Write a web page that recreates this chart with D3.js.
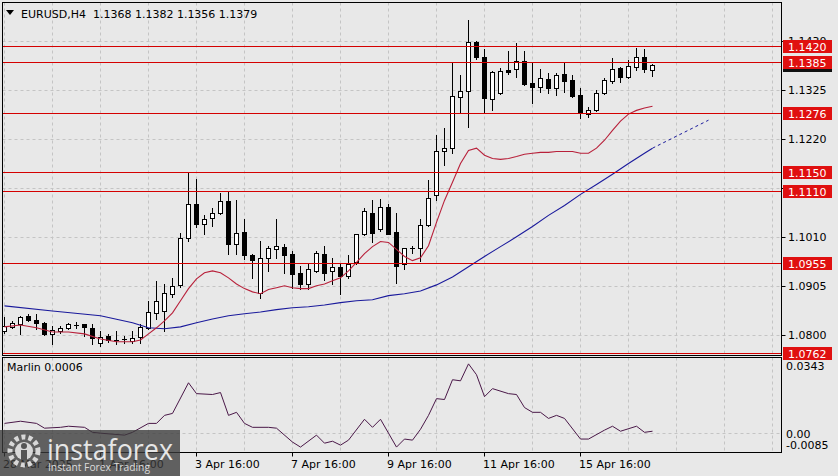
<!DOCTYPE html>
<html><head><meta charset="utf-8">
<script src="https://cdn.jsdelivr.net/npm/d3@7"></script>
<style>
html,body{margin:0;padding:0;background:#e8e8e8;}
svg{display:block;font-family:"DejaVu Sans",sans-serif;}
</style></head><body>
<svg id="c" width="838" height="476"></svg>
<script>
const symbol = "EURUSD,H4";
const headerOHLC = ["1.1368", "1.1382", "1.1356", "1.1379"];

const opens = [1.0809,1.0818,1.0824,1.0842,1.0833,1.0827,1.0803,1.0809,1.0816,1.0822,
 1.0824,1.0816,1.0784,1.0799,1.0788,1.0790,1.0788,1.0797,1.0816,1.0848,
 1.0852,1.0889,1.0908,1.1009,1.1082,1.1039,1.1052,1.1061,1.1087,1.0996,
 1.1022,1.0973,1.0891,1.0966,1.0984,1.0990,1.0975,1.0934,1.0910,1.0938,
 1.0975,1.0938,1.0947,1.0928,1.0956,1.1016,1.1061,1.1027,1.1074,1.1022,
 1.0953,1.0984,1.0986,1.1037,1.1100,1.1196,1.1201,1.1310,1.1323,1.1429,
 1.1396,1.1306,1.1319,1.1368,1.1371,1.1388,1.1340,1.1332,1.1349,1.1330,
 1.1360,1.1347,1.1315,1.1274,1.1282,1.1319,1.1345,1.1373,1.1353,1.1375,
 1.1396,1.1368];
const highs = [1.0840,1.0831,1.0842,1.0846,1.0846,1.0829,1.0820,1.0820,1.0827,1.0829,
 1.0825,1.0824,1.0809,1.0803,1.0809,1.0799,1.0809,1.0824,1.0874,1.0917,
 1.0910,1.0923,1.1020,1.1149,1.1136,1.1057,1.1072,1.1104,1.1110,1.1089,
 1.1050,1.0975,1.1003,1.0992,1.1050,1.0996,1.0981,1.0949,1.0953,1.0981,
 1.0992,1.0966,1.0953,1.0971,1.1018,1.1072,1.1091,1.1093,1.1082,1.1063,
 1.0988,1.0992,1.1050,1.1132,1.1229,1.1244,1.1386,1.1358,1.1476,1.1431,
 1.1414,1.1366,1.1373,1.1409,1.1426,1.1409,1.1386,1.1371,1.1362,1.1362,
 1.1383,1.1358,1.1330,1.1289,1.1325,1.1351,1.1394,1.1375,1.1390,1.1416,
 1.1414,1.1382];
const lows = [1.0805,1.0816,1.0803,1.0831,1.0814,1.0801,1.0781,1.0805,1.0814,1.0816,
 1.0799,1.0781,1.0777,1.0786,1.0781,1.0784,1.0784,1.0784,1.0814,1.0835,
 1.0809,1.0882,1.0904,1.1003,1.1031,1.1016,1.1035,1.1059,1.0975,1.0975,
 1.0964,1.0923,1.0880,1.0938,1.0966,1.0934,1.0902,1.0900,1.0900,1.0936,
 1.0919,1.0910,1.0889,1.0923,1.0953,1.1014,1.0999,1.1024,1.1016,1.0913,
 1.0943,1.0977,1.0960,1.1035,1.1091,1.1164,1.1190,1.1276,1.1246,1.1392,
 1.1276,1.1282,1.1317,1.1360,1.1353,1.1336,1.1297,1.1321,1.1319,1.1315,
 1.1321,1.1310,1.1265,1.1267,1.1280,1.1317,1.1340,1.1343,1.1351,1.1368,
 1.1364,1.1356];
const closes = [1.0820,1.0827,1.0840,1.0833,1.0827,1.0803,1.0812,1.0816,1.0824,1.0821,
 1.0818,1.0794,1.0797,1.0790,1.0789,1.0791,1.0794,1.0818,1.0850,1.0874,
 1.0891,1.0906,1.1009,1.1082,1.1039,1.1050,1.1061,1.1087,1.0996,1.1020,
 1.0971,1.0962,1.0966,1.0986,1.0992,1.0973,1.0932,1.0910,1.0941,1.0977,
 1.0934,1.0947,1.0928,1.0953,1.1016,1.1067,1.1020,1.1074,1.1018,1.0949,
 1.0986,1.0986,1.1037,1.1095,1.1196,1.1201,1.1312,1.1323,1.1429,1.1396,
 1.1308,1.1364,1.1366,1.1364,1.1388,1.1338,1.1332,1.1351,1.1330,1.1358,
 1.1345,1.1312,1.1278,1.1282,1.1319,1.1347,1.1371,1.1353,1.1377,1.1396,
 1.1371,1.1379];

const redMA = [[0,1.0818],[2,1.0822],[4,1.0816],[6,1.0807],[8,1.0807],[10,1.0803],[12,1.0792],[14,1.0786],[16,1.0786],[17,1.0790],[18,1.0803],[19,1.0816],[20,1.0831],[21,1.0848],[22,1.0874],[23,1.0900],[24,1.0921],[25,1.0934],[26,1.0938],[27,1.0934],[28,1.0923],[29,1.0910],[30,1.0900],[31,1.0893],[32,1.0889],[33,1.0898],[34,1.0902],[35,1.0906],[36,1.0902],[37,1.0900],[38,1.0900],[39,1.0906],[40,1.0910],[41,1.0917],[42,1.0923],[43,1.0938],[44,1.0956],[45,1.0975],[46,1.0990],[47,1.1001],[48,1.0999],[49,1.0984],[50,1.0969],[51,1.0960],[52,1.0966],[53,1.0992],[54,1.1042],[55,1.1089],[56,1.1128],[57,1.1168],[58,1.1196],[59,1.1201],[60,1.1186],[61,1.1179],[62,1.1177],[63,1.1179],[64,1.1183],[65,1.1188],[66,1.1190],[67,1.1192],[68,1.1192],[69,1.1194],[70,1.1194],[71,1.1194],[72,1.1190],[73,1.1190],[74,1.1201],[75,1.1218],[76,1.1239],[77,1.1259],[78,1.1274],[79,1.1282],[80,1.1287],[81,1.1291]];
const blueMA = [[0,1.0863],[6,1.0852],[12,1.0842],[16,1.0827],[18,1.0816],[20,1.0814],[22,1.0818],[24,1.0827],[26,1.0835],[28,1.0842],[30,1.0846],[32,1.0850],[34,1.0855],[36,1.0859],[38,1.0861],[40,1.0865],[42,1.0870],[44,1.0874],[46,1.0876],[48,1.0885],[50,1.0889],[52,1.0895],[54,1.0908],[56,1.0925],[58,1.0947],[60,1.0969],[62,1.0990],[64,1.1011],[66,1.1033],[68,1.1057],[70,1.1078],[72,1.1102],[74,1.1123],[76,1.1145],[78,1.1168],[80,1.1190],[81,1.1201]];
const blueProjection = [[81,1.1201],[88,1.1261]];

const marlin = [[0,0.0042],[2,0.0052],[4,0.0042],[5,0.0020],[7,0.0024],[8,0.0029],[10,0.0024],[11,0.0001],[12,-0.0003],[15,-0.0012],[16,0.0001],[18,0.0042],[19,0.0042],[20,0.0079],[21,0.0088],[23,0.0229],[24,0.0179],[26,0.0175],[27,0.0184],[28,0.0079],[29,0.0093],[30,0.0042],[31,0.0024],[33,0.0024],[34,0.0020],[36,-0.0044],[37,-0.0067],[39,-0.0012],[40,-0.0049],[41,-0.0040],[42,-0.0058],[43,-0.0035],[45,0.0061],[46,0.0024],[47,0.0061],[48,-0.0003],[49,-0.0067],[50,-0.0030],[51,-0.0035],[52,0.0015],[53,0.0079],[54,0.0156],[55,0.0152],[56,0.0243],[57,0.0238],[58,0.0316],[59,0.0266],[60,0.0165],[61,0.0202],[63,0.0179],[64,0.0175],[65,0.0115],[66,0.0093],[67,0.0093],[68,0.0065],[69,0.0079],[70,0.0065],[72,-0.0030],[73,-0.0030],[75,0.0011],[76,0.0029],[77,0.0006],[79,0.0029],[80,0.0001],[81,0.0006]];
const marlinLabel = "Marlin 0.0006";
const marlinTicks = [0.0343, 0.00, -0.0085];
const marlinTickText = ["0.0343", "0.00", "-0.0085"];

const levels = [1.1420, 1.1385, 1.1276, 1.1150, 1.1110, 1.0955, 1.0762];
const bidPrice = 1.1379;
const priceTicks = [1.0800, 1.0905, 1.1010, 1.1115, 1.1220, 1.1325, 1.1430];
const timeTickIdx = [0, 12, 24, 36, 48, 60, 72];
const timeTickText = ["28 Mar 2025", "1 Apr 16:00", "3 Apr 16:00", "7 Apr 16:00", "9 Apr 16:00", "11 Apr 16:00", "15 Apr 16:00"];

// ---------- drawing ----------
const svg = d3.select('#c');
const L = 2.5, R = 781.5, T = 2.5, B = 355.5, ST = 357.5, SB = 452.5;
const x = d3.scaleLinear().domain([0, 97]).range([4, 780]);
const y = d3.scaleLinear().domain([1.0762, 1.1420]).range([353, 46]);
const ym = d3.scaleLinear().domain([-0.0085, 0.0343]).range([451, 358]);
const px = v => Math.round(v) + 0.5;

svg.append('rect').attr('width', 838).attr('height', 476).attr('fill', '#e8e8e8');

// grid
const grid = svg.append('g').attr('stroke', '#c4c4c4').attr('stroke-dasharray', '3,3').attr('stroke-width', 1);
grid.selectAll('line.h').data(priceTicks).join('line')
  .attr('x1', L).attr('x2', R).attr('y1', d => px(y(d))).attr('y2', d => px(y(d)));
const vgrid = d3.range(0, 97, 6);
grid.selectAll('line.v').data(vgrid).join('line')
  .attr('x1', d => px(x(d))).attr('x2', d => px(x(d))).attr('y1', T).attr('y2', B);
grid.selectAll('line.v2').data(vgrid).join('line')
  .attr('x1', d => px(x(d))).attr('x2', d => px(x(d))).attr('y1', ST).attr('y2', SB);
grid.append('line').attr('x1', L).attr('x2', R).attr('y1', px(ym(0))).attr('y2', px(ym(0)));

// candles
const bars = opens.map((o, i) => ({ i, o, h: highs[i], l: lows[i], c: closes[i] }));
const cg = svg.append('g');
cg.selectAll('line.wick').data(bars).join('line')
  .attr('x1', d => px(x(d.i))).attr('x2', d => px(x(d.i)))
  .attr('y1', d => Math.round(y(d.h))).attr('y2', d => Math.round(y(d.l)) + 1)
  .attr('stroke', '#000').attr('stroke-width', 1);
const isDoji = d => Math.abs(y(d.o) - y(d.c)) < 1.5;
cg.selectAll('rect.body').data(bars.filter(d => !isDoji(d))).join('rect')
  .attr('x', d => Math.round(x(d.i)) - 1.5)
  .attr('width', 4)
  .attr('y', d => Math.round(y(Math.max(d.o, d.c))) + 0.5)
  .attr('height', d => Math.max(1, Math.round(y(Math.min(d.o, d.c))) - Math.round(y(Math.max(d.o, d.c)))))
  .attr('fill', d => d.c >= d.o ? '#fff' : '#000')
  .attr('stroke', '#000').attr('stroke-width', 1);
cg.selectAll('line.doji').data(bars.filter(isDoji)).join('line')
  .attr('x1', d => Math.round(x(d.i)) - 2).attr('x2', d => Math.round(x(d.i)) + 3)
  .attr('y1', d => px(y(d.c))).attr('y2', d => px(y(d.c)))
  .attr('stroke', '#000');

// MAs
const line = d3.line().x(d => x(d[0]) + 0.5).y(d => y(d[1]));
svg.append('path').attr('d', line(blueMA)).attr('fill', 'none').attr('stroke', '#1a1a9c').attr('stroke-width', 1.1);
svg.append('path').attr('d', line(blueProjection)).attr('fill', 'none').attr('stroke', '#1a1a9c').attr('stroke-width', 1).attr('stroke-dasharray', '3,3');
svg.append('path').attr('d', line(redMA)).attr('fill', 'none').attr('stroke', '#b8203a').attr('stroke-width', 1.1);

// level lines
svg.append('g').selectAll('line').data(levels).join('line')
  .attr('x1', L).attr('x2', R).attr('y1', d => px(y(d))).attr('y2', d => px(y(d)))
  .attr('stroke', '#d40000').attr('stroke-width', 1);

// frames
svg.append('rect').attr('x', L).attr('y', T).attr('width', R - L).attr('height', B - T).attr('fill', 'none').attr('stroke', '#000');
svg.append('rect').attr('x', L).attr('y', ST).attr('width', R - L).attr('height', SB - ST).attr('fill', 'none').attr('stroke', '#000');

// header
svg.append('path').attr('d', 'M6,10 L14,10 L10,15 Z').attr('fill', '#000');
const hdr = svg.append('text').attr('x', 21).attr('y', 18).attr('font-size', 11).attr('fill', '#000').style('white-space', 'pre');
hdr.text(symbol + '  ' + headerOHLC.join(' '));

// price axis (tick labels hidden behind a level label are not drawn)
const visibleTicks = priceTicks.filter(t => !levels.some(l => Math.abs(y(t) - y(l)) < 3));
const pa = svg.append('g').attr('font-size', 11);
pa.selectAll('line').data(priceTicks).join('line')
  .attr('x1', R).attr('x2', R + 4).attr('y1', d => px(y(d))).attr('y2', d => px(y(d))).attr('stroke', '#000');
pa.selectAll('text').data(visibleTicks).join('text')
  .attr('x', 788).attr('y', d => y(d) + 4).attr('fill', '#000').text(d => d.toFixed(4));
// bid box
svg.append('rect').attr('x', 783).attr('y', Math.round(y(bidPrice)) - 6).attr('width', 49).attr('height', 13).attr('fill', '#111');
// level labels
const lg = svg.append('g').attr('font-size', 11);
lg.selectAll('rect').data(levels).join('rect')
  .attr('x', 783).attr('y', d => Math.round(y(d)) - 6).attr('width', 49).attr('height', 13).attr('fill', '#e01010');
lg.selectAll('text').data(levels).join('text')
  .attr('x', 788).attr('y', d => Math.round(y(d)) + 4.5).attr('fill', '#fff').text(d => d.toFixed(4));

// marlin panel
svg.append('path').attr('d', d3.line().x(d => x(d[0]) + 0.5).y(d => ym(d[1]))(marlin))
  .attr('fill', 'none').attr('stroke', '#4a1848').attr('stroke-width', 1);
svg.append('text').attr('x', 7).attr('y', 371).attr('font-size', 11).attr('fill', '#000').text(marlinLabel);
const mOff = [8, 1, -6];
svg.append('g').attr('font-size', 11).selectAll('text').data(marlinTicks).join('text')
  .attr('x', 786).attr('y', (d, i) => ym(d) + mOff[i] + 4).attr('fill', '#000').text((d, i) => marlinTickText[i]);

// time axis
const ta = svg.append('g').attr('font-size', 11);
ta.selectAll('line').data(timeTickIdx).join('line')
  .attr('x1', d => px(x(d))).attr('x2', d => px(x(d))).attr('y1', SB).attr('y2', SB + 4).attr('stroke', '#000');
ta.selectAll('text').data(timeTickIdx).join('text')
  .attr('x', d => Math.round(x(d)) - 1).attr('y', 468).attr('fill', '#000').text((d, i) => timeTickText[i]);

// logo
const logo = svg.append('g');
logo.append('rect').attr('x', 0).attr('y', 430).attr('width', 180).attr('height', 46).attr('fill', '#3a3a3a').attr('opacity', 0.78);
logo.append('circle').attr('cx', 24).attr('cy', 451).attr('r', 14).attr('fill', 'none').attr('stroke', '#d8d8d8').attr('stroke-width', 5).attr('stroke-dasharray', '4,3');
logo.append('circle').attr('cx', 24).attr('cy', 451).attr('r', 9).attr('fill', '#d8d8d8');
logo.append('circle').attr('cx', 24).attr('cy', 446).attr('r', 3).attr('fill', '#555');
logo.append('rect').attr('x', 21).attr('y', 450).attr('width', 6).attr('height', 10).attr('fill', '#555');
logo.append('text').attr('x', 47).attr('y', 460).attr('font-size', 30).attr('font-family', 'Open Sans, sans-serif')
  .attr('fill', '#e6e6e6').attr('textLength', 126).attr('lengthAdjust', 'spacingAndGlyphs').text('instaforex');
logo.append('text').attr('x', 48).attr('y', 471).attr('font-size', 11).attr('font-family', 'Open Sans, sans-serif')
  .attr('fill', '#dcdcdc').attr('textLength', 102).attr('lengthAdjust', 'spacingAndGlyphs').text('Instant Forex Trading');
</script>
</body></html>
